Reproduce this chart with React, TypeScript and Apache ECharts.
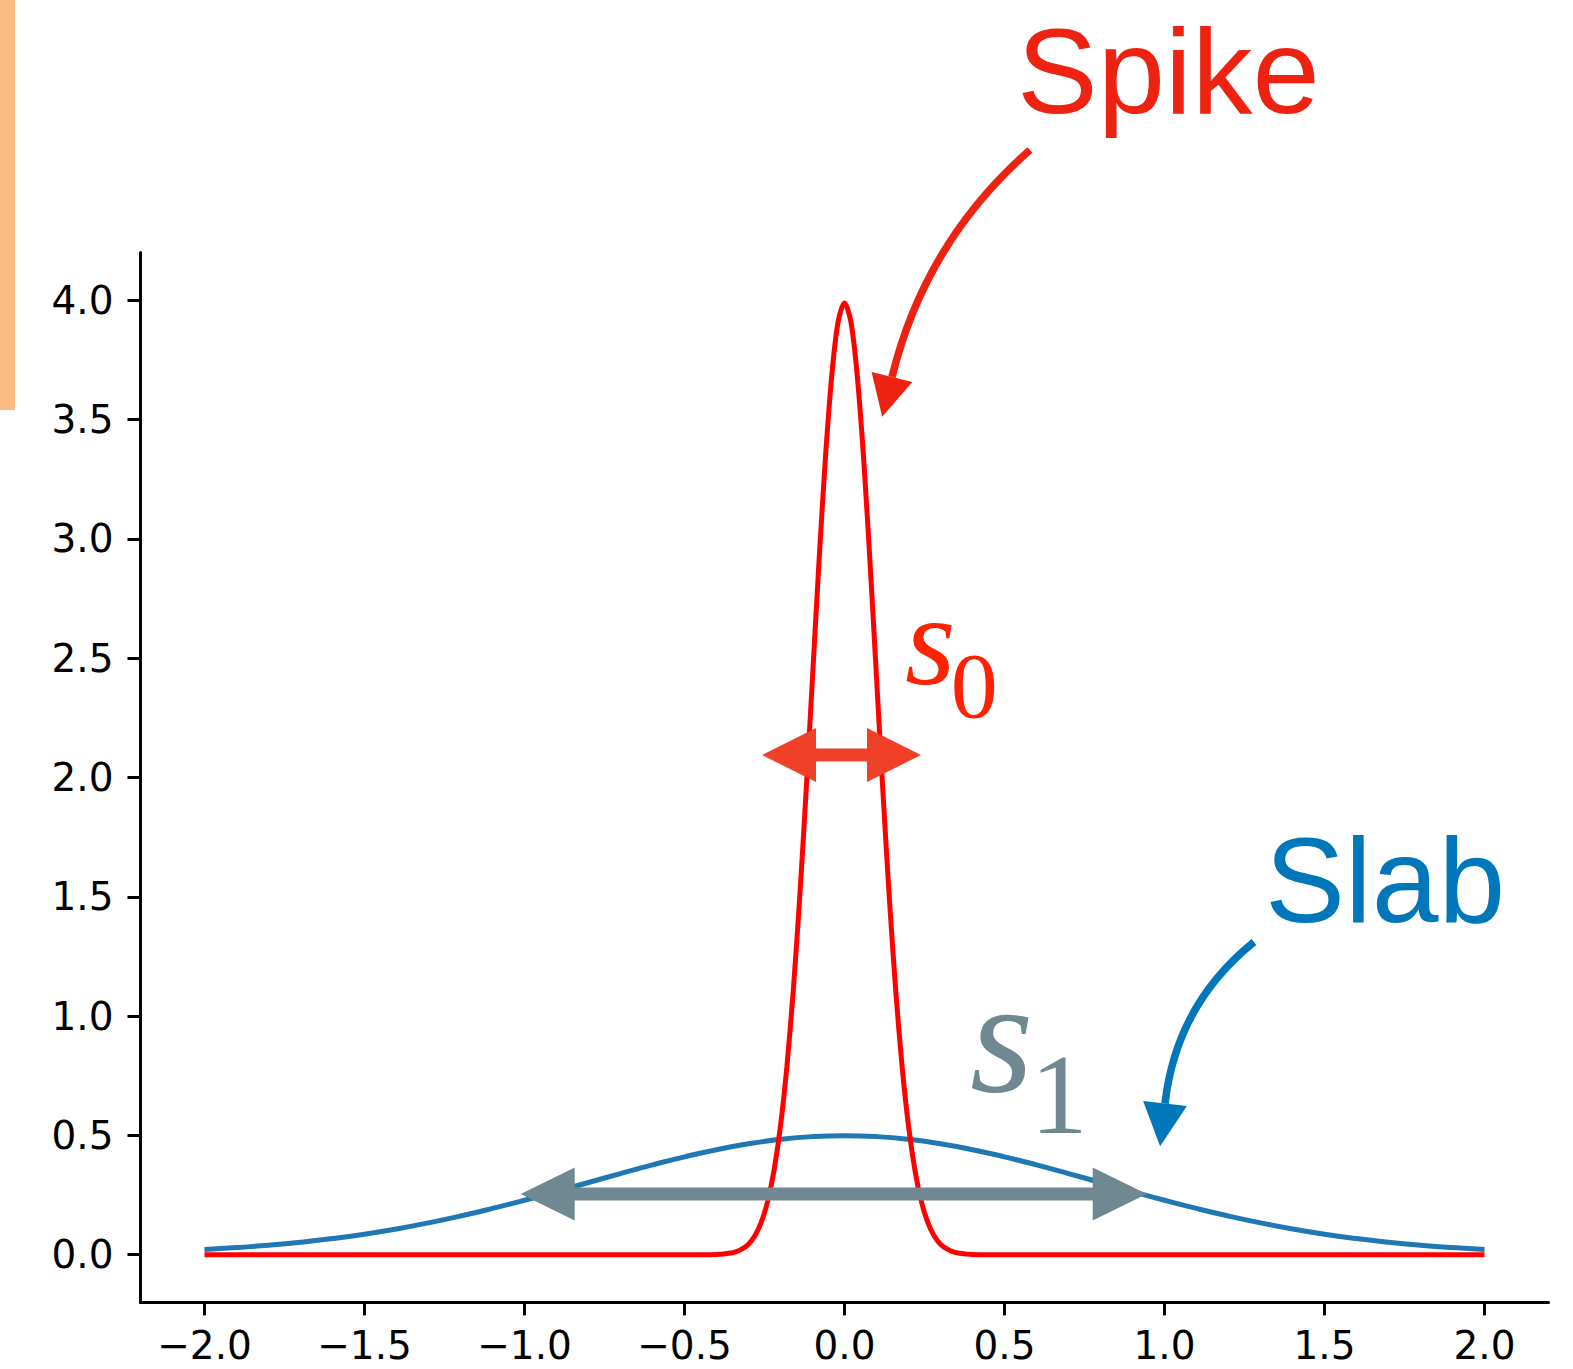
import React, { useEffect, useRef } from "react";
import * as echarts from "echarts";

// ---- Data ----
const slabX = [
  -2.0, -1.9, -1.8, -1.7, -1.6, -1.5, -1.4, -1.3, -1.2, -1.1, -1.0, -0.9, -0.8, -0.7, -0.6, -0.5, -0.4, -0.3, -0.2, -0.1,
  0.0, 0.1, 0.2, 0.3, 0.4, 0.5, 0.6, 0.7, 0.8, 0.9, 1.0, 1.1, 1.2, 1.3, 1.4, 1.5, 1.6, 1.7, 1.8, 1.9, 2.0,
];
const slabY = [
  0.0219, 0.0297, 0.0397, 0.0522, 0.0675, 0.086, 0.1079, 0.1332, 0.1619, 0.1938, 0.2283, 0.2649, 0.3025, 0.3401,
  0.3764, 0.4102, 0.4401, 0.4648, 0.4834, 0.4948, 0.4987, 0.4948, 0.4834, 0.4648, 0.4401, 0.4102, 0.3764, 0.3401,
  0.3025, 0.2649, 0.2283, 0.1938, 0.1619, 0.1332, 0.1079, 0.086, 0.0675, 0.0522, 0.0397, 0.0297, 0.0219,
];
const spikeX = [
  -2.0, -0.44, -0.4, -0.38, -0.36, -0.34, -0.32, -0.3, -0.28, -0.26, -0.24, -0.22, -0.2, -0.18, -0.16, -0.14, -0.12,
  -0.1, -0.08, -0.06, -0.04, -0.02, 0.0, 0.02, 0.04, 0.06, 0.08, 0.1, 0.12, 0.14, 0.16, 0.18, 0.2, 0.22, 0.24, 0.26,
  0.28, 0.3, 0.32, 0.34, 0.36, 0.38, 0.4, 0.44, 2.0,
];
const spikeY = [
  0, 0, 0.001, 0.003, 0.006, 0.012, 0.024, 0.044, 0.079, 0.136, 0.224, 0.355, 0.54, 0.789, 1.109, 1.497, 1.942, 2.42,
  2.897, 3.332, 3.682, 3.91, 3.989, 3.91, 3.682, 3.332, 2.897, 2.42, 1.942, 1.497, 1.109, 0.789, 0.54, 0.355, 0.224,
  0.136, 0.079, 0.044, 0.024, 0.012, 0.006, 0.003, 0.001, 0, 0,
];
const xTicks = [-2.0, -1.5, -1.0, -0.5, 0.0, 0.5, 1.0, 1.5, 2.0];
const yTicks = [0.0, 0.5, 1.0, 1.5, 2.0, 2.5, 3.0, 3.5, 4.0];

const fmt = (v: number) => v.toFixed(1).replace("-", "\u2212");

function doubleArrow(x1: number, x2: number, y: number, head: number, half: number, shaft: number) {
  const s = shaft / 2;
  return [
    [x1, y],
    [x1 + head, y - half],
    [x1 + head, y - s],
    [x2 - head, y - s],
    [x2 - head, y - half],
    [x2, y],
    [x2 - head, y + half],
    [x2 - head, y + s],
    [x1 + head, y + s],
    [x1 + head, y + half],
  ];
}

export default function App() {
  const ref = useRef<HTMLDivElement>(null);
  useEffect(() => {
    if (!ref.current) return;
    const chart = echarts.init(ref.current, null, { renderer: "svg" });
    const tickFont = { fontFamily: "DejaVu Sans", fontSize: 39, color: "#000" };
    const option: any = {
      animation: false,
      backgroundColor: "#ffffff",
      grid: { left: 140.5, right: 24.5, top: 252.6, bottom: 66.6, containLabel: false, outerBoundsMode: "none" },
      xAxis: {
        type: "value",
        min: -2.2,
        max: 2.2,
        splitLine: { show: false },
        axisLine: { onZero: false, lineStyle: { color: "#000", width: 3 } },
        axisTick: { show: true, length: 13, lineStyle: { color: "#000", width: 3 }, customValues: xTicks },
        axisLabel: { ...tickFont, lineHeight: 32, margin: 27, customValues: xTicks, formatter: fmt },
      },
      yAxis: {
        type: "value",
        min: -0.2,
        max: 4.2,
        splitLine: { show: false },
        axisLine: { show: true, onZero: false, lineStyle: { color: "#000", width: 3 } },
        axisTick: { show: true, length: 13, lineStyle: { color: "#000", width: 3 }, customValues: yTicks },
        axisLabel: { ...tickFont, margin: 27, customValues: yTicks, formatter: fmt },
      },
      series: [
        {
          type: "line",
          data: slabX.map((x, i) => [x, slabY[i]]),
          showSymbol: false,
          smooth: true,
          lineStyle: { color: "#1f77b4", width: 5 },
          z: 2,
        },
        {
          type: "line",
          data: spikeX.map((x, i) => [x, spikeY[i]]),
          showSymbol: false,
          smooth: 0.3,
          lineStyle: { color: "#ff0000", width: 5 },
          z: 3,
        },
      ],
      graphic: [
        { type: "rect", z: 100, shape: { x: 0, y: 0, width: 15, height: 410 }, style: { fill: "#F9BB82" } },
        {
          type: "text",
          z: 100,
          style: {
            text: "Spike",
            x: 1017,
            y: 71.4,
            fontFamily: "Liberation Sans",
            fontSize: 121,
            fill: "#EE2211",
            align: "left",
            verticalAlign: "middle",
          },
        },
        {
          type: "bezierCurve",
          z: 100,
          shape: { x1: 1030, y1: 150, cpx1: 925.2, cpy1: 241.7, x2: 892, y2: 377 },
          style: { stroke: "#EE2211", lineWidth: 7.5, fill: null },
        },
        {
          type: "polygon",
          z: 100,
          shape: { points: [[882.2, 416.8], [912.4, 382], [871.6, 372]] },
          style: { fill: "#EE2211" },
        },
        {
          type: "text",
          z: 100,
          style: {
            text: "Slab",
            x: 1265,
            y: 880.4,
            fontFamily: "Liberation Sans",
            fontSize: 120,
            fill: "#0077BB",
            align: "left",
            verticalAlign: "middle",
          },
        },
        {
          type: "bezierCurve",
          z: 100,
          shape: { x1: 1254, y1: 942, cpx1: 1176.3, cpy1: 1004.5, x2: 1165, y2: 1103.5 },
          style: { stroke: "#0077BB", lineWidth: 7.5, fill: null },
        },
        {
          type: "polygon",
          z: 100,
          shape: { points: [[1160.1, 1146.2], [1186.9, 1106], [1143.1, 1101]] },
          style: { fill: "#0077BB" },
        },
        {
          type: "polygon",
          z: 101,
          shape: { points: doubleArrow(762, 921, 755, 54, 27, 13) },
          style: { fill: "#F04128" },
        },
        {
          type: "polygon",
          z: 101,
          shape: { points: doubleArrow(520.7, 1146.7, 1194, 54, 26.5, 13) },
          style: { fill: "#708891" },
        },
        {
          type: "text",
          z: 100,
          style: {
            text: "s",
            x: 905,
            y: 640.1,
            fontFamily: "Liberation Serif",
            fontStyle: "italic",
            fontSize: 130,
            fill: "#FF2200",
            align: "left",
            verticalAlign: "middle",
          },
        },
        {
          type: "text",
          z: 100,
          style: {
            text: "0",
            x: 950.7,
            y: 685.3,
            fontFamily: "Liberation Serif",
            fontSize: 94,
            fill: "#FF2200",
            align: "left",
            verticalAlign: "middle",
          },
        },
        {
          type: "text",
          z: 100,
          style: {
            text: "s",
            x: 970,
            y: 1036,
            fontFamily: "Liberation Serif",
            fontStyle: "italic",
            fontSize: 163,
            fill: "#708891",
            align: "left",
            verticalAlign: "middle",
          },
        },
        {
          type: "text",
          z: 100,
          style: {
            text: "1",
            x: 1030.2,
            y: 1094.2,
            fontFamily: "Liberation Serif",
            fontSize: 115,
            fill: "#708891",
            align: "left",
            verticalAlign: "middle",
          },
        },
      ],
    };
    chart.setOption(option);
    return () => chart.dispose();
  }, []);
  return (
    <div
      ref={ref}
      style={{ position: "absolute", left: 0, top: 0, width: 1573, height: 1369, background: "#fff" }}
    />
  );
}
